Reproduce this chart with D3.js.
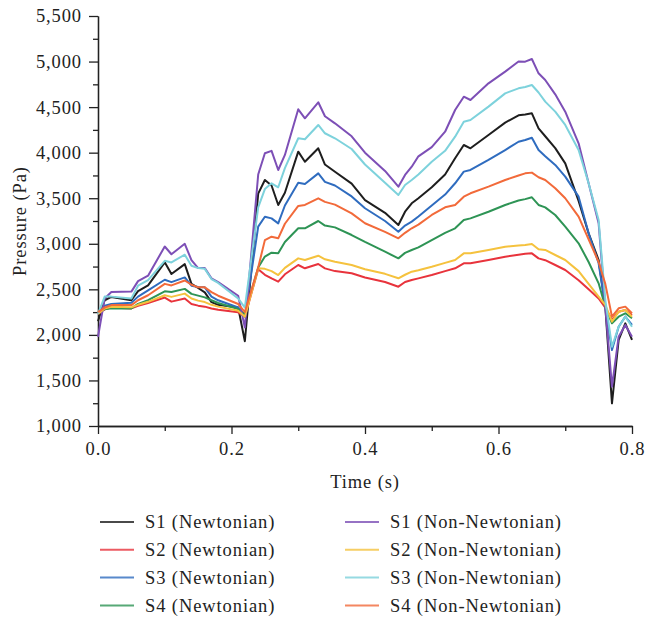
<!DOCTYPE html>
<html>
<head>
<meta charset="utf-8">
<script src="https://cdn.jsdelivr.net/npm/d3@7/dist/d3.min.js"></script>
<style>
  html, body { margin: 0; padding: 0; background: #fff; }
  svg text { font-family: "Liberation Serif", "Times New Roman", serif; fill: #222; }
</style>
</head>
<body>
<svg id="chart" width="645" height="618"></svg>
<script>
// Sample times (s), shared by all series
const times = [0, 0.01, 0.02, 0.05, 0.06, 0.075, 0.1, 0.11, 0.13, 0.14, 0.15, 0.16, 0.17, 0.18, 0.21,
  0.22, 0.24, 0.25, 0.26, 0.27, 0.28, 0.30, 0.31, 0.33, 0.34, 0.355, 0.38, 0.40, 0.43, 0.45,
  0.46, 0.47, 0.48, 0.50, 0.52, 0.535, 0.548, 0.558, 0.585, 0.61, 0.63, 0.64, 0.65, 0.66, 0.67,
  0.685, 0.70, 0.72, 0.735, 0.75, 0.76, 0.77, 0.78, 0.79, 0.80];

// Pressure (Pa) for each case
const s1Newtonian = [2150, 2380, 2417, 2381, 2480, 2543, 2796, 2668, 2777, 2560, 2515, 2467, 2360, 2330, 2300,
  1930, 3550, 3700, 3640, 3426, 3560, 4011, 3901, 4048, 3870, 3790, 3660, 3480, 3340, 3206,
  3352, 3444, 3500, 3620, 3760, 3938, 4084, 4048, 4194, 4330, 4410, 4420, 4432, 4267, 4180,
  4050, 3883, 3470, 3115, 2822, 2310, 1249, 1944, 2127, 1944];
const s2Newtonian = [2230, 2280, 2300, 2291, 2320, 2350, 2410, 2365, 2399, 2340, 2321, 2310, 2290, 2275, 2248,
  2200, 2720, 2660, 2620, 2584, 2665, 2767, 2731, 2778, 2730, 2700, 2676, 2630, 2580, 2529,
  2580, 2603, 2620, 2657, 2700, 2731, 2786, 2786, 2822, 2858, 2880, 2890, 2895, 2840, 2820,
  2767, 2712, 2600, 2500, 2400, 2300, 2164, 2255, 2273, 2218];
const s3Newtonian = [2230, 2320, 2340, 2352, 2420, 2489, 2605, 2579, 2631, 2540, 2525, 2522, 2420, 2380, 2300,
  2200, 3188, 3297, 3279, 3224, 3420, 3670, 3656, 3773, 3680, 3640, 3520, 3390, 3250, 3133,
  3200, 3243, 3300, 3420, 3540, 3664, 3792, 3810, 3920, 4029, 4120, 4139, 4164, 4029, 3960,
  3865, 3737, 3517, 3115, 2786, 2310, 1834, 2090, 2200, 2109];
const s4Newtonian = [2250, 2280, 2291, 2291, 2340, 2381, 2478, 2471, 2505, 2450, 2431, 2412, 2380, 2350, 2284,
  2230, 2740, 2860, 2902, 2895, 3020, 3170, 3170, 3250, 3200, 3180, 3096, 3020, 2913, 2840,
  2900, 2932, 2960, 3041, 3120, 3170, 3261, 3279, 3352, 3426, 3475, 3490, 3510, 3426, 3400,
  3316, 3188, 3005, 2800, 2566, 2310, 2127, 2200, 2237, 2182];
const s1NonNewtonian = [1980, 2400, 2470, 2475, 2590, 2650, 2970, 2885, 3000, 2820, 2733, 2733, 2620, 2580, 2430,
  2080, 3760, 3993, 4020, 3810, 3975, 4476, 4377, 4553, 4400, 4322, 4180, 4000, 3800, 3627,
  3755, 3846, 3960, 4060, 4230, 4468, 4614, 4578, 4761, 4890, 5000, 4999, 5028, 4871, 4798,
  4640, 4450, 4103, 3664, 3225, 2310, 1431, 1980, 2109, 1980];
const s2NonNewtonian = [2230, 2290, 2309, 2302, 2330, 2363, 2435, 2417, 2453, 2400, 2376, 2360, 2330, 2310, 2266,
  2200, 2731, 2725, 2700, 2657, 2735, 2840, 2822, 2869, 2830, 2803, 2767, 2720, 2670, 2621,
  2660, 2694, 2710, 2748, 2790, 2822, 2895, 2895, 2932, 2968, 2980, 2987, 2997, 2940, 2932,
  2877, 2822, 2700, 2560, 2420, 2330, 2145, 2255, 2273, 2200];
const s3NonNewtonian = [2230, 2420, 2420, 2400, 2540, 2600, 2813, 2795, 2880, 2759, 2733, 2725, 2613, 2570, 2400,
  2300, 3400, 3600, 3664, 3620, 3830, 4158, 4147, 4304, 4213, 4158, 4040, 3870, 3670, 3535,
  3645, 3700, 3760, 3900, 4020, 4176, 4340, 4358, 4505, 4651, 4706, 4720, 4743, 4660, 4560,
  4450, 4304, 4029, 3664, 3261, 2383, 1870, 2090, 2200, 2090];
const s4NonNewtonian = [2250, 2300, 2327, 2327, 2380, 2435, 2560, 2543, 2597, 2550, 2522, 2522, 2470, 2430, 2339,
  2250, 2740, 3040, 3078, 3060, 3220, 3415, 3426, 3499, 3460, 3430, 3334, 3225, 3130, 3060,
  3120, 3170, 3210, 3316, 3400, 3426, 3517, 3554, 3627, 3700, 3750, 3773, 3781, 3730, 3700,
  3609, 3500, 3298, 3050, 2800, 2560, 2200, 2292, 2310, 2237];

const seriesNames = ["S1 (Newtonian)", "S2 (Newtonian)", "S3 (Newtonian)", "S4 (Newtonian)",
  "S1 (Non-Newtonian)", "S2 (Non-Newtonian)", "S3 (Non-Newtonian)", "S4 (Non-Newtonian)"];
const seriesValues = [s1Newtonian, s2Newtonian, s3Newtonian, s4Newtonian,
  s1NonNewtonian, s2NonNewtonian, s3NonNewtonian, s4NonNewtonian];
const seriesColors = ["#1e1e1e", "#e8333c", "#2f6cbf", "#2e9455",
  "#7d4fb6", "#f5c23e", "#7dd2dc", "#f26a3a"];

const xMajorTicks = [0, 0.2, 0.4, 0.6, 0.8];
const xMinorTicks = [0.1, 0.3, 0.5, 0.7];
const yMajorTicks = [1000, 1500, 2000, 2500, 3000, 3500, 4000, 4500, 5000, 5500];
const yMinorTicks = [1250, 1750, 2250, 2750, 3250, 3750, 4250, 4750, 5250];

const svg = d3.select("#chart");
const x = d3.scaleLinear().domain([0, 0.8]).range([98, 632]);
const y = d3.scaleLinear().domain([1000, 5500]).range([426, 16]);

const fontSize = "18.5px";
const spacing = "0.9px";

// Axes
function styleAxis(g) {
  g.selectAll("path.domain").attr("stroke", "#222").attr("stroke-width", 1.3);
  g.selectAll(".tick line").attr("stroke", "#222").attr("stroke-width", 1.3);
  g.selectAll(".tick text").style("font-size", fontSize).style("letter-spacing", spacing)
    .attr("fill", "#222").attr("font-family", "Liberation Serif, serif");
}

svg.append("g").attr("transform", "translate(0,426)")
  .call(d3.axisBottom(x).tickValues(xMinorTicks).tickSize(5).tickSizeOuter(0).tickFormat(""))
  .call(styleAxis);
svg.append("g").attr("transform", "translate(0,426)")
  .call(d3.axisBottom(x).tickValues(xMajorTicks).tickSize(8).tickSizeOuter(0).tickPadding(8)
    .tickFormat(d3.format(".1f")))
  .call(styleAxis);

svg.append("g").attr("transform", "translate(98,0)")
  .call(d3.axisLeft(y).tickValues(yMinorTicks).tickSize(5).tickSizeOuter(0).tickFormat(""))
  .call(styleAxis);
svg.append("g").attr("transform", "translate(98,0)")
  .call(d3.axisLeft(y).tickValues(yMajorTicks).tickSize(9).tickSizeOuter(0).tickPadding(7)
    .tickFormat(d3.format(",")))
  .call(styleAxis);

// Axis titles
svg.append("text").attr("x", 365).attr("y", 488).attr("text-anchor", "middle")
  .style("font-size", fontSize).style("letter-spacing", spacing).text("Time (s)");
svg.append("text").attr("transform", "translate(26,221) rotate(-90)").attr("text-anchor", "middle")
  .style("font-size", fontSize).style("letter-spacing", spacing).text("Pressure (Pa)");

// Pressure curves
const line = d3.line().x((d, i) => x(times[i])).y(d => y(d));
const plot = svg.append("g");
seriesValues.forEach((vals, k) => {
  plot.append("path").datum(vals).attr("d", line)
    .attr("fill", "none").attr("stroke", seriesColors[k]).attr("stroke-width", 2)
    .attr("stroke-linejoin", "round");
});

// Legend (two columns)
const legend = svg.append("g");
seriesNames.forEach((name, k) => {
  const col = Math.floor(k / 4), row = k % 4;
  const lx = col === 0 ? 100 : 345;
  const ly = 522 + row * 27.8;
  legend.append("line").attr("x1", lx).attr("x2", lx + 34).attr("y1", ly).attr("y2", ly)
    .attr("stroke", seriesColors[k]).attr("stroke-width", 2).attr("opacity", 0.8);
  legend.append("text").attr("x", lx + 45).attr("y", ly).attr("dy", "0.33em")
    .style("font-size", fontSize).style("letter-spacing", spacing).text(name);
});
</script>
</body>
</html>
